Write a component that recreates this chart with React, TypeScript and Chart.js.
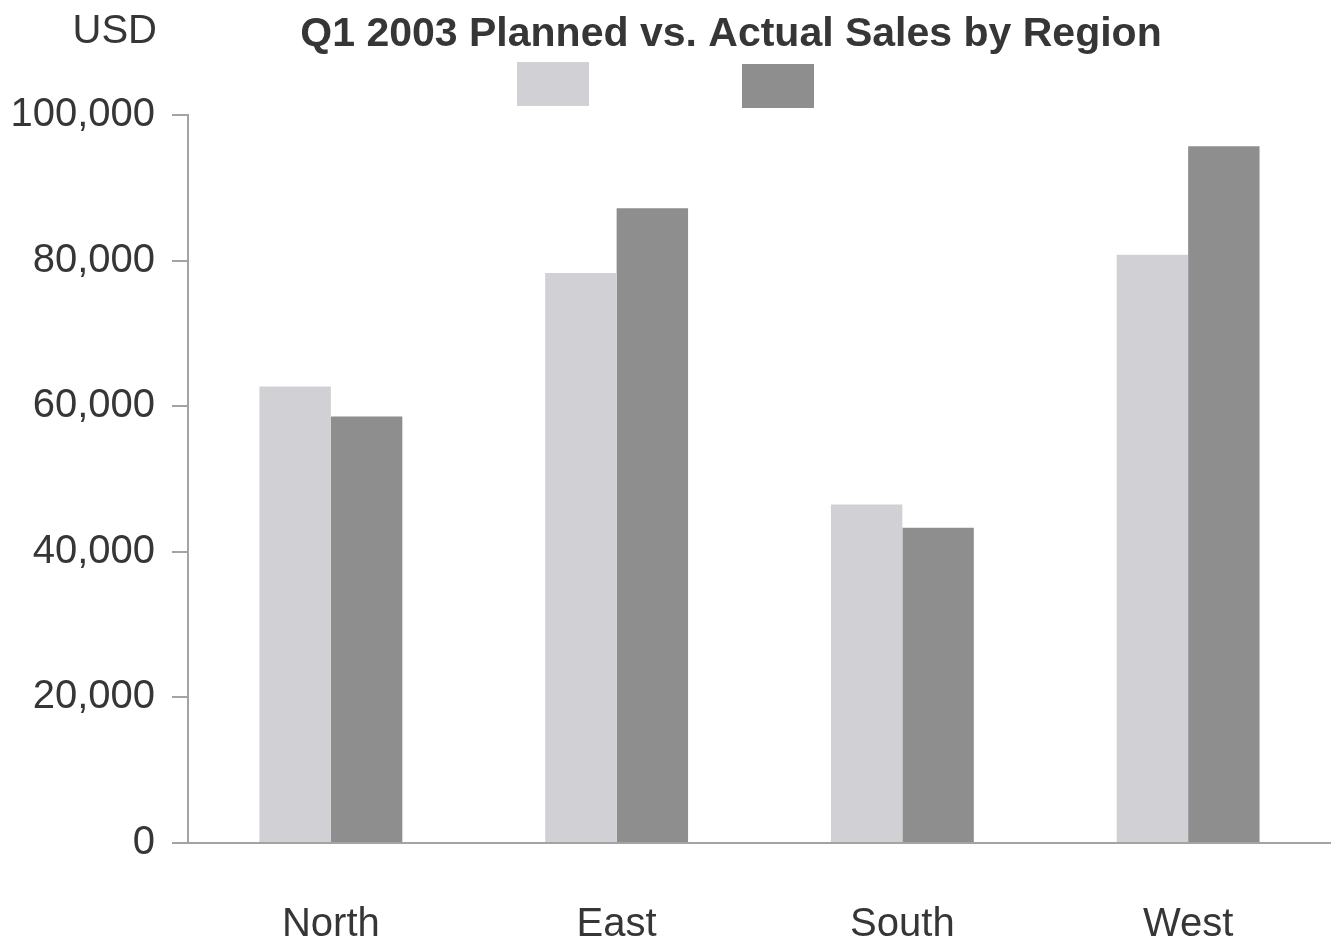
import React, { useEffect, useRef } from "react";
import { Chart, registerables } from "chart.js";

Chart.register(...registerables);

const categories = ["North", "East", "South", "West"];
const plannedSales = [62700, 78300, 46500, 80800];
const actualSales = [58600, 87200, 43300, 95700];
const yTicks = [0, 20000, 40000, 60000, 80000, 100000];
const chartTitle = "Q1 2003 Planned vs. Actual Sales by Region";
const unitLabel = "USD";

const FONT = "'Liberation Sans', Arial, Helvetica, sans-serif";
const TEXT = "#363636";
const AXIS = "#a3a3a3";
const PLANNED_COLOR = "#d1d1d5";
const ACTUAL_COLOR = "#8e8e8e";

const headerPlugin = {
  id: "headerPlugin",
  afterDraw(chart: any) {
    const ctx = chart.ctx;
    const w = chart.width;
    ctx.save();
    // unit label
    ctx.fillStyle = TEXT;
    ctx.font = `40px ${FONT}`;
    ctx.textAlign = "right";
    ctx.textBaseline = "alphabetic";
    ctx.fillText(unitLabel, 157, 43);
    // title
    ctx.font = `bold 41px ${FONT}`;
    ctx.textAlign = "center";
    ctx.fillText(chartTitle, 731, 46);
    // legend swatches (no text), centered on canvas
    const bw = 72;
    const bh = 44;
    const gap = 153;
    const cx = w / 2;
    const ds = chart.data.datasets;
    const x1 = cx - gap / 2 - bw;
    const x2 = cx + gap / 2;
    ctx.fillStyle = ds[0].backgroundColor;
    ctx.fillRect(x1, 62, bw, bh);
    ctx.fillStyle = ds[1].backgroundColor;
    ctx.fillRect(x2, 64, bw, bh);
    ctx.restore();
  },
};

export default function App() {
  const canvasRef = useRef<HTMLCanvasElement | null>(null);

  useEffect(() => {
    document.body.style.margin = "0";
    const canvas = canvasRef.current;
    if (!canvas) return;
    const chart = new Chart(canvas, {
      type: "bar",
      data: {
        labels: categories,
        datasets: [
          {
            label: "Planned",
            data: plannedSales,
            backgroundColor: PLANNED_COLOR,
            borderWidth: 0,
            barPercentage: 1,
            categoryPercentage: 0.5,
          },
          {
            label: "Actual",
            data: actualSales,
            backgroundColor: ACTUAL_COLOR,
            borderWidth: 0,
            barPercentage: 1,
            categoryPercentage: 0.5,
          },
        ],
      },
      plugins: [headerPlugin],
      options: {
        responsive: false,
        animation: false,
        devicePixelRatio: 1,
        layout: { padding: { top: 115, right: 0, left: 0, bottom: 0 } },
        plugins: {
          legend: { display: false },
          title: { display: false },
          tooltip: { enabled: false },
        },
        scales: {
          x: {
            grid: { display: false, drawTicks: false },
            border: { display: true, color: AXIS, width: 2 },
            ticks: {
              color: TEXT,
              font: { family: FONT, size: 40 },
              padding: 58,
            },
            afterFit(scale: any) {
              scale.height = 108;
            },
          },
          y: {
            min: 0,
            max: 100000,
            afterBuildTicks(scale: any) {
              scale.ticks = yTicks.map((v) => ({ value: v }));
            },
            grid: {
              display: true,
              drawOnChartArea: false,
              drawTicks: true,
              tickLength: 16,
              color: AXIS,
              lineWidth: 2,
            },
            border: { display: true, color: AXIS, width: 2 },
            ticks: {
              color: TEXT,
              font: { family: FONT, size: 40 },
              padding: 17,
              callback: (v: any) => Number(v).toLocaleString("en-US"),
            },
            afterFit(scale: any) {
              scale.width = 188;
            },
          },
        },
      },
    });
    return () => chart.destroy();
  }, []);

  return (
    <div style={{ position: "absolute", left: 0, top: 0, width: 1331, height: 951, background: "#ffffff" }}>
      <canvas ref={canvasRef} width={1331} height={951} style={{ display: "block" }} />
    </div>
  );
}
